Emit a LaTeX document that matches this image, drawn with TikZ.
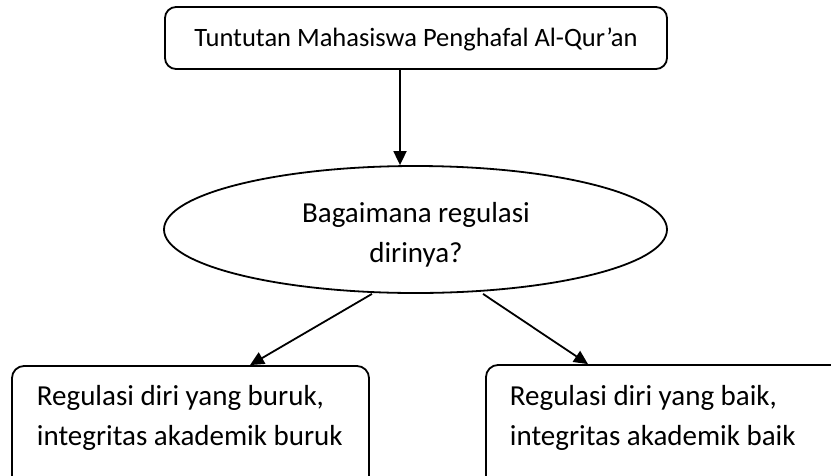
\documentclass[tikz,border=0pt]{standalone}
\usepackage{fontspec}
\setmainfont{Carlito}
\usetikzlibrary{arrows.meta,shapes.geometric}
\begin{document}
\begin{tikzpicture}[x=1pt,y=-1pt,
  line width=1.8pt,
  box/.style={draw, rounded corners=12pt, inner sep=0pt},
  oval/.style={draw, ellipse, inner sep=0pt, minimum width=503pt, minimum height=127pt},
  arr/.style={-{Triangle[length=14pt,width=13pt]}},
  txt/.style={inner sep=0pt, anchor=base, font=\fontsize{29}{40}\selectfont}]
\useasboundingbox (0,0) rectangle (831,475);
\clip (0,0) rectangle (831,475);
% shapes
\node[box, rounded corners=11pt, minimum width=502pt, minimum height=62pt] (top) at (416,38) {};
\node[oval] (ell) at (415.5,229.5) {};
\node[box, minimum width=357pt, minimum height=130pt] (bl) at (190.5,431) {};
\node[box, minimum width=390pt, minimum height=130pt] (br) at (681,430) {};
% texts
\node[txt, font=\fontsize{26.5}{32}\selectfont] (ttop) at (416,46.7) {Tuntutan Mahasiswa Penghafal Al-Qur’an};
\node[txt] (tell) at (416,222) {\begin{tabular}[t]{@{}c@{}}Bagaimana regulasi\\dirinya?\end{tabular}};
\node[txt, anchor=base west] (tbl) at (36,405) {\begin{tabular}[t]{@{}l@{}}Regulasi diri yang buruk,\\integritas akademik buruk\end{tabular}};
\node[txt, anchor=base west] (tbr) at (509,405) {\begin{tabular}[t]{@{}l@{}}Regulasi diri yang baik,\\integritas akademik baik\end{tabular}};
% connectors
\draw[arr] ([xshift=-16pt]top.south) -- ([xshift=-16pt]top.south |- ell.north);
\draw[arr] ([xshift=-43.5pt]ell.south) -- ([xshift=59.5pt]bl.north);
\draw[arr] ([xshift=67.5pt]ell.south) -- ([xshift=-93pt]br.north);
\end{tikzpicture}
\end{document}
